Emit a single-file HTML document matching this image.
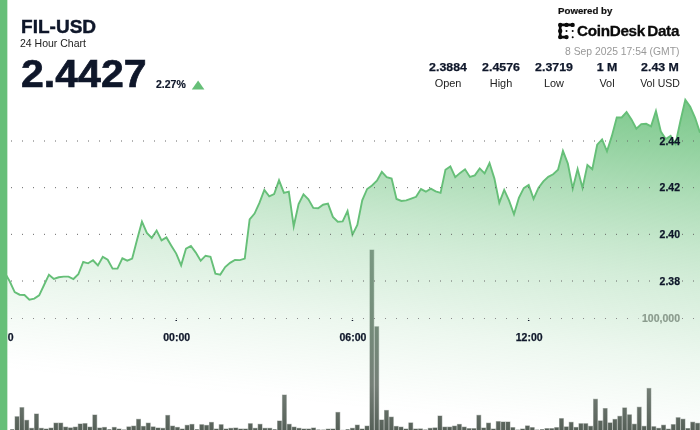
<!DOCTYPE html>
<html><head><meta charset="utf-8"><title>FIL-USD 24 Hour Chart</title>
<style>
html,body{margin:0;padding:0;background:#fff;}
body{width:700px;height:430px;overflow:hidden;position:relative;font-family:"Liberation Sans",sans-serif;color:#0f172a;}
#chart{position:absolute;left:0;top:0;width:700px;height:430px;will-change:transform;}
.t{position:absolute;white-space:nowrap;line-height:1;will-change:transform;}
#leftbar{position:absolute;left:0;top:0;width:7.4px;height:430px;background:#66bf78;}
text{font-family:"Liberation Sans",sans-serif;}
.yl{font-size:10.5px;font-weight:bold;fill:#0f172a;stroke:#0f172a;stroke-width:0.25px;}
.vl{font-size:10.5px;font-weight:bold;fill:#8a9b8d;stroke:#8a9b8d;stroke-width:0.2px;}
.xl{font-size:10.5px;font-weight:bold;fill:#0f172a;stroke:#0f172a;stroke-width:0.25px;}
.stat{position:absolute;top:0;width:80px;text-align:center;will-change:transform;}
.sx{display:inline-block;transform-origin:0 0;}
.stat b{position:absolute;left:0;width:80px;top:61.3px;font-size:11.5px;line-height:12px;font-weight:bold;transform:scaleX(1.075);-webkit-text-stroke:0.25px #0f172a;}
.stat span{position:absolute;left:0;width:80px;top:77px;font-size:10.5px;line-height:12px;color:#222;transform:scaleX(1.04);}
</style></head><body>
<svg id="chart" width="700" height="430" viewBox="0 0 700 430">
<defs>
<linearGradient id="ag" gradientUnits="userSpaceOnUse" x1="690.0" y1="98.0" x2="652.29" y2="440.85"><stop offset="0.0000" stop-color="rgb(102,191,120)" stop-opacity="0.87"/><stop offset="0.0202" stop-color="rgb(102,191,120)" stop-opacity="0.85"/><stop offset="0.1499" stop-color="rgb(102,191,120)" stop-opacity="0.7"/><stop offset="0.2939" stop-color="rgb(102,191,120)" stop-opacity="0.52"/><stop offset="0.4380" stop-color="rgb(102,191,120)" stop-opacity="0.365"/><stop offset="0.5331" stop-color="rgb(102,191,120)" stop-opacity="0.28"/><stop offset="0.6686" stop-color="rgb(102,191,120)" stop-opacity="0.183"/><stop offset="0.7550" stop-color="rgb(102,191,120)" stop-opacity="0.118"/><stop offset="0.8617" stop-color="rgb(102,191,120)" stop-opacity="0.06"/><stop offset="0.9654" stop-color="rgb(102,191,120)" stop-opacity="0.01"/><stop offset="1.0000" stop-color="rgb(102,191,120)" stop-opacity="0.0"/></linearGradient><linearGradient id="bg" gradientUnits="userSpaceOnUse" x1="0" y1="250" x2="0" y2="430"><stop offset="0.0000" stop-color="rgb(122, 152, 130)"/><stop offset="0.2778" stop-color="rgb(118, 145, 125)"/><stop offset="0.5000" stop-color="rgb(116, 136, 121)"/><stop offset="0.7500" stop-color="rgb(117, 127, 119)"/><stop offset="0.8889" stop-color="rgb(100, 110, 102)"/><stop offset="1.0000" stop-color="rgb(86, 96, 88)"/></linearGradient>
</defs>
<path d="M0.00,270.00 L4.90,273.00 L9.79,281.50 L14.69,292.10 L19.58,294.70 L24.48,295.00 L29.37,299.60 L34.27,298.60 L39.16,295.40 L44.06,285.00 L48.95,274.70 L53.85,279.00 L58.74,277.30 L63.64,276.60 L68.53,276.60 L73.43,279.00 L78.32,274.30 L83.22,262.00 L88.11,263.30 L93.01,260.30 L97.90,265.50 L102.80,256.90 L107.69,259.70 L112.59,268.60 L117.48,268.60 L122.38,258.30 L127.27,260.70 L132.17,258.60 L137.06,239.70 L141.96,221.69 L146.85,232.90 L151.75,237.90 L156.64,230.58 L161.54,240.40 L166.43,237.40 L171.33,245.70 L176.22,253.60 L181.12,265.30 L186.01,248.60 L190.91,245.90 L195.80,252.60 L200.70,260.70 L205.59,255.70 L210.49,256.70 L215.38,273.60 L220.28,274.60 L225.17,267.10 L230.07,262.90 L234.97,260.00 L239.86,260.10 L244.76,258.60 L249.65,219.30 L254.55,213.60 L259.44,202.90 L264.34,190.01 L269.23,196.40 L274.13,194.00 L279.02,180.31 L283.92,192.90 L288.81,191.70 L293.71,226.30 L298.60,204.00 L303.50,194.43 L308.39,199.30 L313.29,207.90 L318.18,208.30 L323.08,204.70 L327.97,203.60 L332.87,216.90 L337.76,221.70 L342.66,221.40 L347.55,211.07 L352.45,234.70 L357.34,225.00 L362.24,200.40 L367.13,189.00 L372.03,185.50 L376.92,180.70 L381.82,171.92 L386.71,177.10 L391.61,178.60 L396.50,199.00 L401.40,201.00 L406.29,200.40 L411.19,198.60 L416.08,196.80 L420.98,189.10 L425.87,191.70 L430.77,188.60 L435.66,191.40 L440.56,192.90 L445.45,169.70 L450.35,166.40 L455.24,177.10 L460.14,172.90 L465.03,169.30 L469.93,176.90 L474.83,175.40 L479.72,168.36 L484.62,173.30 L489.51,163.05 L494.41,178.60 L499.30,202.90 L504.20,189.89 L509.09,200.70 L513.99,214.30 L518.88,197.90 L523.78,188.10 L528.67,185.00 L533.57,198.90 L538.46,187.90 L543.36,181.40 L548.25,176.90 L553.15,174.30 L558.04,169.70 L562.94,150.91 L567.83,163.60 L572.73,188.60 L577.62,169.10 L582.52,187.90 L587.41,164.99 L592.31,169.30 L597.20,144.70 L602.10,139.41 L606.99,151.30 L611.89,135.90 L616.78,117.50 L621.68,117.50 L626.57,112.00 L631.47,119.40 L636.36,128.80 L641.26,124.10 L646.15,123.80 L651.05,126.40 L655.94,110.95 L660.84,131.50 L665.73,139.00 L670.63,135.90 L675.52,144.00 L680.42,121.00 L685.31,99.73 L690.21,106.80 L695.10,117.80 L700.00,132.70 L700,430 L0,430 Z" fill="url(#ag)" stroke="none"/>
<path d="M0.00,270.00 L4.90,273.00 L9.79,281.50 L14.69,292.10 L19.58,294.70 L24.48,295.00 L29.37,299.60 L34.27,298.60 L39.16,295.40 L44.06,285.00 L48.95,274.70 L53.85,279.00 L58.74,277.30 L63.64,276.60 L68.53,276.60 L73.43,279.00 L78.32,274.30 L83.22,262.00 L88.11,263.30 L93.01,260.30 L97.90,265.50 L102.80,256.90 L107.69,259.70 L112.59,268.60 L117.48,268.60 L122.38,258.30 L127.27,260.70 L132.17,258.60 L137.06,239.70 L141.96,221.69 L146.85,232.90 L151.75,237.90 L156.64,230.58 L161.54,240.40 L166.43,237.40 L171.33,245.70 L176.22,253.60 L181.12,265.30 L186.01,248.60 L190.91,245.90 L195.80,252.60 L200.70,260.70 L205.59,255.70 L210.49,256.70 L215.38,273.60 L220.28,274.60 L225.17,267.10 L230.07,262.90 L234.97,260.00 L239.86,260.10 L244.76,258.60 L249.65,219.30 L254.55,213.60 L259.44,202.90 L264.34,190.01 L269.23,196.40 L274.13,194.00 L279.02,180.31 L283.92,192.90 L288.81,191.70 L293.71,226.30 L298.60,204.00 L303.50,194.43 L308.39,199.30 L313.29,207.90 L318.18,208.30 L323.08,204.70 L327.97,203.60 L332.87,216.90 L337.76,221.70 L342.66,221.40 L347.55,211.07 L352.45,234.70 L357.34,225.00 L362.24,200.40 L367.13,189.00 L372.03,185.50 L376.92,180.70 L381.82,171.92 L386.71,177.10 L391.61,178.60 L396.50,199.00 L401.40,201.00 L406.29,200.40 L411.19,198.60 L416.08,196.80 L420.98,189.10 L425.87,191.70 L430.77,188.60 L435.66,191.40 L440.56,192.90 L445.45,169.70 L450.35,166.40 L455.24,177.10 L460.14,172.90 L465.03,169.30 L469.93,176.90 L474.83,175.40 L479.72,168.36 L484.62,173.30 L489.51,163.05 L494.41,178.60 L499.30,202.90 L504.20,189.89 L509.09,200.70 L513.99,214.30 L518.88,197.90 L523.78,188.10 L528.67,185.00 L533.57,198.90 L538.46,187.90 L543.36,181.40 L548.25,176.90 L553.15,174.30 L558.04,169.70 L562.94,150.91 L567.83,163.60 L572.73,188.60 L577.62,169.10 L582.52,187.90 L587.41,164.99 L592.31,169.30 L597.20,144.70 L602.10,139.41 L606.99,151.30 L611.89,135.90 L616.78,117.50 L621.68,117.50 L626.57,112.00 L631.47,119.40 L636.36,128.80 L641.26,124.10 L646.15,123.80 L651.05,126.40 L655.94,110.95 L660.84,131.50 L665.73,139.00 L670.63,135.90 L675.52,144.00 L680.42,121.00 L685.31,99.73 L690.21,106.80 L695.10,117.80 L700.00,132.70" fill="none" stroke="#66bf78" stroke-width="1.9" stroke-linejoin="miter" stroke-miterlimit="10"/>
<g fill="url(#bg)" stroke="url(#bg)" stroke-opacity="0.45" stroke-width="1">
<rect x="10.20" y="429.30" width="3.9" height="0.70" stroke="none"/>
<rect x="15.06" y="416.70" width="3.9" height="13.30"/>
<rect x="19.93" y="407.60" width="3.9" height="22.40"/>
<rect x="24.79" y="420.30" width="3.9" height="9.70"/>
<rect x="29.65" y="428.30" width="3.9" height="1.70"/>
<rect x="34.51" y="414.00" width="3.9" height="16.00"/>
<rect x="39.37" y="428.30" width="3.9" height="1.70"/>
<rect x="44.23" y="429.00" width="3.9" height="1.00"/>
<rect x="49.09" y="428.10" width="3.9" height="1.90"/>
<rect x="53.95" y="423.10" width="3.9" height="6.90"/>
<rect x="58.81" y="423.10" width="3.9" height="6.90"/>
<rect x="63.67" y="427.10" width="3.9" height="2.90"/>
<rect x="68.54" y="427.90" width="3.9" height="2.10"/>
<rect x="73.40" y="427.10" width="3.9" height="2.90"/>
<rect x="78.26" y="424.00" width="3.9" height="6.00"/>
<rect x="83.12" y="423.60" width="3.9" height="6.40"/>
<rect x="87.98" y="427.10" width="3.9" height="2.90"/>
<rect x="92.84" y="415.00" width="3.9" height="15.00"/>
<rect x="97.70" y="428.00" width="3.9" height="2.00"/>
<rect x="102.56" y="427.40" width="3.9" height="2.60"/>
<rect x="107.42" y="429.30" width="3.9" height="0.70" stroke="none"/>
<rect x="112.29" y="427.40" width="3.9" height="2.60"/>
<rect x="117.15" y="429.00" width="3.9" height="1.00"/>
<rect x="122.01" y="429.60" width="3.9" height="0.40" stroke="none"/>
<rect x="126.87" y="426.90" width="3.9" height="3.10"/>
<rect x="131.73" y="426.10" width="3.9" height="3.90"/>
<rect x="136.59" y="419.30" width="3.9" height="10.70"/>
<rect x="141.45" y="426.40" width="3.9" height="3.60"/>
<rect x="146.31" y="423.10" width="3.9" height="6.90"/>
<rect x="151.18" y="426.90" width="3.9" height="3.10"/>
<rect x="156.04" y="428.00" width="3.9" height="2.00"/>
<rect x="160.90" y="428.30" width="3.9" height="1.70"/>
<rect x="165.76" y="415.40" width="3.9" height="14.60"/>
<rect x="170.62" y="426.10" width="3.9" height="3.90"/>
<rect x="175.48" y="427.40" width="3.9" height="2.60"/>
<rect x="180.34" y="429.00" width="3.9" height="1.00"/>
<rect x="185.20" y="425.30" width="3.9" height="4.70"/>
<rect x="190.06" y="424.40" width="3.9" height="5.60"/>
<rect x="194.92" y="429.30" width="3.9" height="0.70" stroke="none"/>
<rect x="199.79" y="424.70" width="3.9" height="5.30"/>
<rect x="204.65" y="425.40" width="3.9" height="4.60"/>
<rect x="209.51" y="422.40" width="3.9" height="7.60"/>
<rect x="214.37" y="429.00" width="3.9" height="1.00"/>
<rect x="219.23" y="424.70" width="3.9" height="5.30"/>
<rect x="224.09" y="429.00" width="3.9" height="1.00"/>
<rect x="228.95" y="428.30" width="3.9" height="1.70"/>
<rect x="233.81" y="428.00" width="3.9" height="2.00"/>
<rect x="238.67" y="429.00" width="3.9" height="1.00"/>
<rect x="243.54" y="429.00" width="3.9" height="1.00"/>
<rect x="248.40" y="423.70" width="3.9" height="6.30"/>
<rect x="253.26" y="428.30" width="3.9" height="1.70"/>
<rect x="258.12" y="424.30" width="3.9" height="5.70"/>
<rect x="262.98" y="428.30" width="3.9" height="1.70"/>
<rect x="267.84" y="428.30" width="3.9" height="1.70"/>
<rect x="272.70" y="429.30" width="3.9" height="0.70" stroke="none"/>
<rect x="277.56" y="421.00" width="3.9" height="9.00"/>
<rect x="282.43" y="395.00" width="3.9" height="35.00"/>
<rect x="287.29" y="424.30" width="3.9" height="5.70"/>
<rect x="292.15" y="427.10" width="3.9" height="2.90"/>
<rect x="297.01" y="428.30" width="3.9" height="1.70"/>
<rect x="301.87" y="429.00" width="3.9" height="1.00"/>
<rect x="306.73" y="429.00" width="3.9" height="1.00"/>
<rect x="311.59" y="428.00" width="3.9" height="2.00"/>
<rect x="316.45" y="429.60" width="3.9" height="0.40" stroke="none"/>
<rect x="321.31" y="429.70" width="3.9" height="0.30" stroke="none"/>
<rect x="326.18" y="429.10" width="3.9" height="0.90"/>
<rect x="331.04" y="429.00" width="3.9" height="1.00"/>
<rect x="335.90" y="412.40" width="3.9" height="17.60"/>
<rect x="340.76" y="429.90" width="3.9" height="0.10" stroke="none"/>
<rect x="345.62" y="429.30" width="3.9" height="0.70" stroke="none"/>
<rect x="350.48" y="428.30" width="3.9" height="1.70"/>
<rect x="355.34" y="425.10" width="3.9" height="4.90"/>
<rect x="360.20" y="429.00" width="3.9" height="1.00"/>
<rect x="365.06" y="426.10" width="3.9" height="3.90"/>
<rect x="369.92" y="250.00" width="3.9" height="180.00"/>
<rect x="374.79" y="326.70" width="3.9" height="103.30"/>
<rect x="379.65" y="420.00" width="3.9" height="10.00"/>
<rect x="384.51" y="410.40" width="3.9" height="19.60"/>
<rect x="389.37" y="417.10" width="3.9" height="12.90"/>
<rect x="394.23" y="426.40" width="3.9" height="3.60"/>
<rect x="399.09" y="427.10" width="3.9" height="2.90"/>
<rect x="403.95" y="429.00" width="3.9" height="1.00"/>
<rect x="408.81" y="422.90" width="3.9" height="7.10"/>
<rect x="413.67" y="429.00" width="3.9" height="1.00"/>
<rect x="418.54" y="428.90" width="3.9" height="1.10"/>
<rect x="423.40" y="429.60" width="3.9" height="0.40" stroke="none"/>
<rect x="428.26" y="428.30" width="3.9" height="1.70"/>
<rect x="433.12" y="427.90" width="3.9" height="2.10"/>
<rect x="437.98" y="416.00" width="3.9" height="14.00"/>
<rect x="442.84" y="427.10" width="3.9" height="2.90"/>
<rect x="447.70" y="427.10" width="3.9" height="2.90"/>
<rect x="452.56" y="426.10" width="3.9" height="3.90"/>
<rect x="457.42" y="424.40" width="3.9" height="5.60"/>
<rect x="462.29" y="427.10" width="3.9" height="2.90"/>
<rect x="467.15" y="428.60" width="3.9" height="1.40"/>
<rect x="472.01" y="428.60" width="3.9" height="1.40"/>
<rect x="476.87" y="415.30" width="3.9" height="14.70"/>
<rect x="481.73" y="428.00" width="3.9" height="2.00"/>
<rect x="486.59" y="423.10" width="3.9" height="6.90"/>
<rect x="491.45" y="429.00" width="3.9" height="1.00"/>
<rect x="496.31" y="421.60" width="3.9" height="8.40"/>
<rect x="501.17" y="422.00" width="3.9" height="8.00"/>
<rect x="506.04" y="422.00" width="3.9" height="8.00"/>
<rect x="510.90" y="427.60" width="3.9" height="2.40"/>
<rect x="515.76" y="429.70" width="3.9" height="0.30" stroke="none"/>
<rect x="520.62" y="429.00" width="3.9" height="1.00"/>
<rect x="525.48" y="425.90" width="3.9" height="4.10"/>
<rect x="530.34" y="427.60" width="3.9" height="2.40"/>
<rect x="535.20" y="429.70" width="3.9" height="0.30" stroke="none"/>
<rect x="540.06" y="429.30" width="3.9" height="0.70" stroke="none"/>
<rect x="544.92" y="428.60" width="3.9" height="1.40"/>
<rect x="549.79" y="428.60" width="3.9" height="1.40"/>
<rect x="554.65" y="427.60" width="3.9" height="2.40"/>
<rect x="559.51" y="418.60" width="3.9" height="11.40"/>
<rect x="564.37" y="426.90" width="3.9" height="3.10"/>
<rect x="569.23" y="422.30" width="3.9" height="7.70"/>
<rect x="574.09" y="427.40" width="3.9" height="2.60"/>
<rect x="578.95" y="423.70" width="3.9" height="6.30"/>
<rect x="583.81" y="423.70" width="3.9" height="6.30"/>
<rect x="588.67" y="426.30" width="3.9" height="3.70"/>
<rect x="593.54" y="399.20" width="3.9" height="30.80"/>
<rect x="598.40" y="420.90" width="3.9" height="9.10"/>
<rect x="603.26" y="408.50" width="3.9" height="21.50"/>
<rect x="608.12" y="422.90" width="3.9" height="7.10"/>
<rect x="612.98" y="419.40" width="3.9" height="10.60"/>
<rect x="617.84" y="416.30" width="3.9" height="13.70"/>
<rect x="622.70" y="407.90" width="3.9" height="22.10"/>
<rect x="627.56" y="414.80" width="3.9" height="15.20"/>
<rect x="632.42" y="424.20" width="3.9" height="5.80"/>
<rect x="637.29" y="407.20" width="3.9" height="22.80"/>
<rect x="642.15" y="426.30" width="3.9" height="3.70"/>
<rect x="647.01" y="388.40" width="3.9" height="41.60"/>
<rect x="651.87" y="426.70" width="3.9" height="3.30"/>
<rect x="656.73" y="428.30" width="3.9" height="1.70"/>
<rect x="661.59" y="425.20" width="3.9" height="4.80"/>
<rect x="666.45" y="429.10" width="3.9" height="0.90"/>
<rect x="671.31" y="424.60" width="3.9" height="5.40"/>
<rect x="676.17" y="417.70" width="3.9" height="12.30"/>
<rect x="681.04" y="419.20" width="3.9" height="10.80"/>
<rect x="685.90" y="428.50" width="3.9" height="1.50"/>
<rect x="690.76" y="422.20" width="3.9" height="7.80"/>
<rect x="695.62" y="423.30" width="3.9" height="6.70"/>
</g>
<path d="M0,141.0 H655 M682,141.0 H700" stroke="#666" stroke-width="1" stroke-dasharray="1 10" fill="none"/>
<path d="M0,187.67 H655 M682,187.67 H700" stroke="#666" stroke-width="1" stroke-dasharray="1 10" fill="none"/>
<path d="M0,234.33 H655 M682,234.33 H700" stroke="#666" stroke-width="1" stroke-dasharray="1 10" fill="none"/>
<path d="M0,281.0 H655 M682,281.0 H700" stroke="#666" stroke-width="1" stroke-dasharray="1 10" fill="none"/>
<path d="M0,318.5 H638.5 M682,318.5 H700" stroke="#8a8a8a" stroke-width="1" stroke-dasharray="1 10" fill="none"/>

<rect x="-0.75" y="320" width="1.5" height="1" fill="#0f172a"/>
<rect x="175.47" y="320" width="1.5" height="1" fill="#0f172a"/>
<rect x="351.70" y="320" width="1.5" height="1" fill="#0f172a"/>
<rect x="527.92" y="320" width="1.5" height="1" fill="#0f172a"/>

<text x="680" y="144.80" text-anchor="end" class="yl">2.44</text>
<text x="680" y="191.47" text-anchor="end" class="yl">2.42</text>
<text x="680" y="238.13" text-anchor="end" class="yl">2.40</text>
<text x="680" y="284.80" text-anchor="end" class="yl">2.38</text>
<text x="680" y="322.4" text-anchor="end" class="vl">100,000</text>

<text x="13.7" y="341" text-anchor="end" class="xl">0</text>
<text x="176.72" y="341" text-anchor="middle" class="xl">00:00</text>
<text x="352.95" y="341" text-anchor="middle" class="xl">06:00</text>
<text x="529.17" y="341" text-anchor="middle" class="xl">12:00</text>

<rect x="0" y="0" width="7.35" height="430" fill="#66bf78"/>
</svg>

<div class="t sx" id="title" style="left:20.7px;top:18.9px;font-size:17.5px;font-weight:bold;transform:scaleX(1.088);-webkit-text-stroke:0.4px #0f172a;">FIL-USD</div>
<div class="t" id="sub" style="left:20px;top:37.7px;font-size:10.5px;color:#222;">24 Hour Chart</div>
<div class="t sx" id="price" style="left:21.0px;top:54.4px;font-size:39px;font-weight:bold;transform:scaleX(1.053);-webkit-text-stroke:0.7px #0f172a;">2.4427</div>
<div class="t" id="pct" style="left:156px;top:78.5px;font-size:10.5px;font-weight:bold;-webkit-text-stroke:0.2px #0f172a;">2.27%</div>
<svg class="t" style="left:191px;top:80px;" width="14" height="10" viewBox="0 0 14 10"><path d="M0.8,9.6 L7.1,0.5 L13.4,9.6 Z" fill="#66bf78"/></svg>

<div class="t sx" id="pow" style="left:558.3px;top:5.8px;font-size:9.5px;font-weight:bold;color:#111;transform:scaleX(1.02);-webkit-text-stroke:0.2px #111;">Powered by</div>
<svg class="t" id="logo" style="left:556px;top:21px;" width="22" height="20" viewBox="0 0 22 20">
<g fill="#0a0a0a" stroke="#0a0a0a">
<path d="M4.2,3.9 H16.6 M4.2,3.9 V16.1 M4.2,16.1 H10.5" stroke-width="2.7" stroke-linecap="round" fill="none"/>
<circle cx="4.2" cy="3.9" r="2.2" stroke="none"/><circle cx="10.5" cy="3.9" r="2.2" stroke="none"/><circle cx="16.6" cy="3.9" r="2.2" stroke="none"/>
<circle cx="4.2" cy="10" r="2.2" stroke="none"/><circle cx="4.2" cy="16.1" r="2.2" stroke="none"/><circle cx="10.5" cy="16.1" r="2.2" stroke="none"/>
<circle cx="10.5" cy="10" r="1" stroke="none"/><circle cx="16.7" cy="10" r="1" stroke="none"/><circle cx="16.7" cy="16.2" r="1" stroke="none"/>
</g></svg>
<div class="t sx" id="cd" style="left:577.0px;top:23.3px;font-size:15px;font-weight:bold;color:#0a0a0a;letter-spacing:-0.3px;transform:scaleX(1.018);-webkit-text-stroke:0.3px #0a0a0a;">CoinDesk<span style="letter-spacing:-2px;"> </span>Data</div>
<div class="t" id="date" style="right:20.7px;top:46.9px;font-size:10.35px;color:#999;">8 Sep 2025 17:54 (GMT)</div>

<div class="stat" style="left:408px;"><b>2.3884</b><span>Open</span></div>
<div class="stat" style="left:461px;"><b>2.4576</b><span>High</span></div>
<div class="stat" style="left:514px;"><b>2.3719</b><span>Low</span></div>
<div class="stat" style="left:567px;"><b>1 M</b><span>Vol</span></div>
<div class="stat" style="left:620px;"><b>2.43 M</b><span style="transform:none;">Vol USD</span></div>
</body></html>
